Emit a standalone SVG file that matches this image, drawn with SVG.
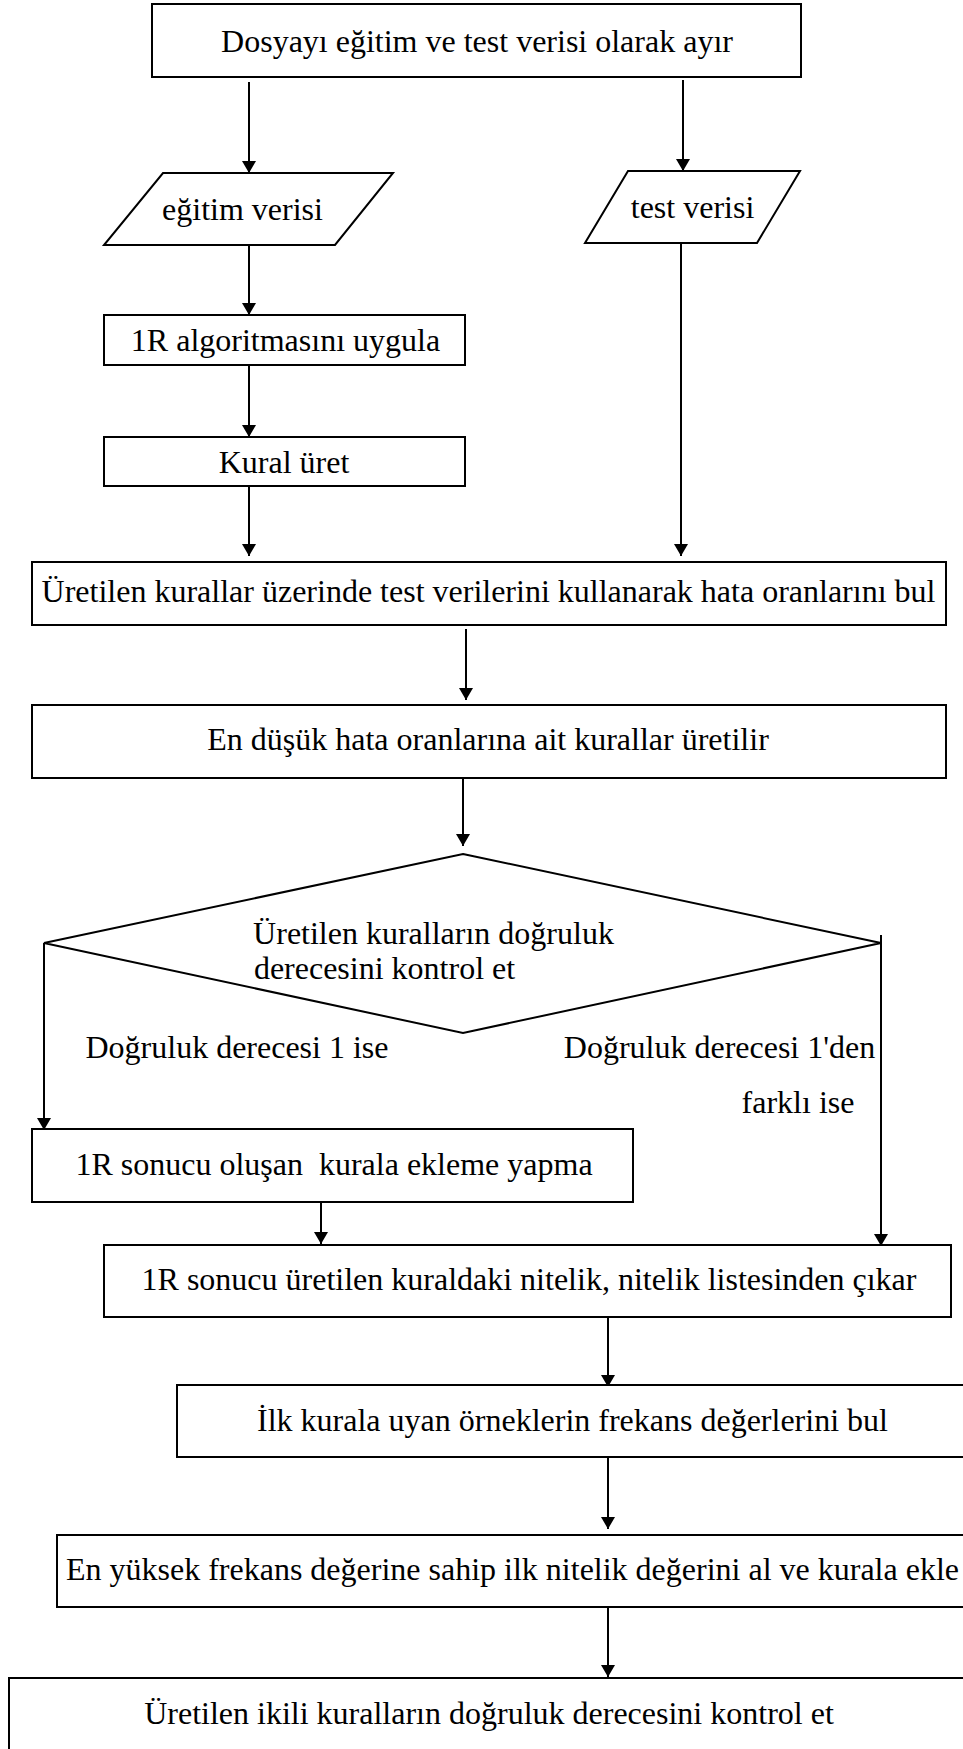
<svg xmlns="http://www.w3.org/2000/svg" width="963" height="1749" viewBox="0 0 963 1749">
  <style>
    .box { fill: #ffffff; stroke: #000000; stroke-width: 2; }
    .edge { fill: none; stroke: #000000; stroke-width: 2; }
    .lbl { font-family: 'Liberation Serif', 'Times New Roman', serif; font-size: 32px; fill: #000000; text-anchor: middle; }
  </style>
  <defs>
    <marker id="arrow" viewBox="0 0 12 14" refX="12" refY="7" markerWidth="12" markerHeight="14" markerUnits="userSpaceOnUse" orient="auto">
      <path d="M0,0 L12,7 L0,14 z" fill="#000000"/>
    </marker>
  </defs>
  <rect width="963" height="1749" fill="#ffffff"/>

  <!-- connectors -->
  <g id="connectors">
    <line class="edge" x1="249" y1="82" x2="249" y2="173" marker-end="url(#arrow)"/>
    <line class="edge" x1="683" y1="80" x2="683" y2="171" marker-end="url(#arrow)"/>
    <line class="edge" x1="249" y1="245" x2="249" y2="315" marker-end="url(#arrow)"/>
    <line class="edge" x1="249" y1="365" x2="249" y2="437" marker-end="url(#arrow)"/>
    <line class="edge" x1="249" y1="486" x2="249" y2="556" marker-end="url(#arrow)"/>
    <line class="edge" x1="681" y1="243" x2="681" y2="556" marker-end="url(#arrow)"/>
    <line class="edge" x1="466" y1="629" x2="466" y2="700" marker-end="url(#arrow)"/>
    <line class="edge" x1="463" y1="773" x2="463" y2="846" marker-end="url(#arrow)"/>
    <line class="edge" x1="44" y1="943" x2="44" y2="1130" marker-end="url(#arrow)"/>
    <line class="edge" x1="881" y1="935" x2="881" y2="1246" marker-end="url(#arrow)"/>
    <line class="edge" x1="321" y1="1197" x2="321" y2="1244" marker-end="url(#arrow)"/>
    <line class="edge" x1="608" y1="1317" x2="608" y2="1387" marker-end="url(#arrow)"/>
    <line class="edge" x1="608" y1="1457" x2="608" y2="1529" marker-end="url(#arrow)"/>
    <line class="edge" x1="608" y1="1605" x2="608" y2="1677" marker-end="url(#arrow)"/>
  </g>

  <!-- nodes -->
  <g id="split">
    <rect class="box" x="152" y="4" width="649" height="73"/>
    <text class="lbl" x="477" y="52">Dosyayı eğitim ve test verisi olarak ayır</text>
  </g>
  <g id="train-data">
    <polygon class="box" points="163,173 393,173 335,245 104,245"/>
    <text class="lbl" x="242.5" y="220">eğitim verisi</text>
  </g>
  <g id="test-data">
    <polygon class="box" points="628,171 800,171 757,243 585,243"/>
    <text class="lbl" x="692.5" y="218">test verisi</text>
  </g>
  <g id="apply-1r">
    <rect class="box" x="104" y="315" width="361" height="50"/>
    <text class="lbl" x="285.5" y="351">1R algoritmasını uygula</text>
  </g>
  <g id="make-rule">
    <rect class="box" x="104" y="437" width="361" height="49"/>
    <text class="lbl" x="284" y="473">Kural üret</text>
  </g>
  <g id="error-rates">
    <rect class="box" x="32" y="562" width="914" height="63"/>
    <text class="lbl" x="488.5" y="602">Üretilen kurallar üzerinde test verilerini kullanarak hata oranlarını bul</text>
  </g>
  <g id="lowest-error">
    <rect class="box" x="32" y="705" width="914" height="73"/>
    <text class="lbl" x="488" y="750">En düşük hata oranlarına ait kurallar üretilir</text>
  </g>
  <g id="check-accuracy">
    <polygon class="box" points="463,854 881,943 463,1033 44,943"/>
    <text class="lbl" x="433.5" y="944">Üretilen kuralların doğruluk</text>
    <text class="lbl" x="384.5" y="979">derecesini kontrol et</text>
  </g>
  <g id="branch-labels">
    <text class="lbl" x="237" y="1058">Doğruluk derecesi 1 ise</text>
    <text class="lbl" x="719.5" y="1058">Doğruluk derecesi 1'den</text>
    <text class="lbl" x="798" y="1113">farklı ise</text>
  </g>
  <g id="no-add">
    <rect class="box" x="32" y="1129" width="601" height="73"/>
    <text class="lbl" x="334" y="1175" xml:space="preserve">1R sonucu oluşan  kurala ekleme yapma</text>
  </g>
  <g id="remove-attribute">
    <rect class="box" x="104" y="1245" width="847" height="72"/>
    <text class="lbl" x="529" y="1290">1R sonucu üretilen kuraldaki nitelik, nitelik listesinden çıkar</text>
  </g>
  <g id="frequencies">
    <rect class="box" x="177" y="1385" width="820" height="72"/>
    <text class="lbl" x="572.5" y="1431">İlk kurala uyan örneklerin frekans değerlerini bul</text>
  </g>
  <g id="add-highest">
    <rect class="box" x="57" y="1535" width="940" height="72"/>
    <text class="lbl" x="512.5" y="1580">En yüksek frekans değerine sahip ilk nitelik değerini al ve kurala ekle</text>
  </g>
  <g id="check-pairs">
    <rect class="box" x="9" y="1678" width="990" height="100"/>
    <text class="lbl" x="489" y="1724">Üretilen ikili kuralların doğruluk derecesini kontrol et</text>
  </g>
</svg>
